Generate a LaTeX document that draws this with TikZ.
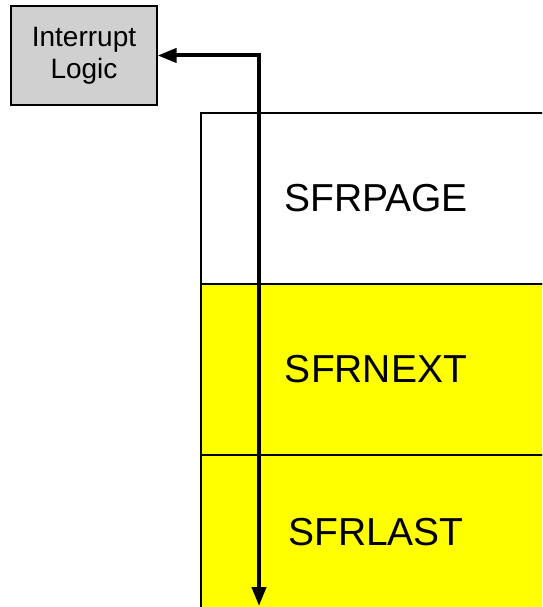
\documentclass[tikz,border=0pt]{standalone}
\usepackage{fontspec}
\setmainfont{Liberation Sans}
\usetikzlibrary{arrows.meta}
\definecolor{logicgray}{RGB}{208,208,208}
\definecolor{regyellow}{RGB}{255,255,0}

\begin{document}
\begin{tikzpicture}[x=1pt, y=-1pt, >={Triangle[length=19pt,width=14pt]},
		reg/.style={draw, line width=1.5pt, minimum width=350pt, inner sep=0pt, font=\fontsize{39}{45}\selectfont},
		logic/.style={draw, line width=1.2pt, fill=logicgray, minimum width=146pt, minimum height=99pt, align=center, font=\fontsize{28}{32}\selectfont}]
	\useasboundingbox (0,0) rectangle (542,607);
	\clip (0,0) rectangle (542,607);
	
	% SFR 页寄存器栈
	\node[reg, minimum height=171pt] (page) at (376,198.5) {SFRPAGE};
	\node[reg, minimum height=171pt, fill=regyellow] (next) at (376,369.5) {SFRNEXT};
	\node[reg, minimum height=154pt, fill=regyellow] (last) at (376,532) {SFRLAST};
	
	% 中断逻辑
	\node[logic] (intr) at (84,55.5) {Interrupt\\Logic};
	
	% 连线
	\coordinate (bot) at (259,606);
	\draw[<->, line width=4pt] (intr.east) -| (bot);
\end{tikzpicture}
\end{document}
